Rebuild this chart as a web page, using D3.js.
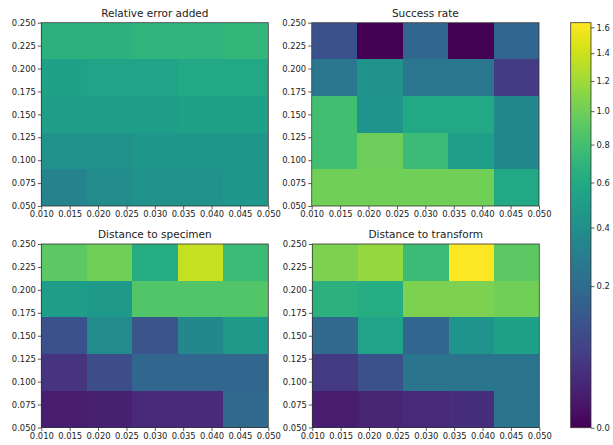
<!DOCTYPE html>
<html><head><meta charset="utf-8">
<script src="https://cdn.jsdelivr.net/npm/d3@7"></script>
<style>body{margin:0;background:#fff}svg{display:block}text{font-family:"DejaVu Sans",sans-serif;fill:#222}</style>
</head><body><svg id="c" width="613" height="445"></svg>
<script>
// cell edges
const xEdges = [0.01, 0.018, 0.026, 0.034, 0.042, 0.05];
const yEdges = [0.05, 0.09, 0.13, 0.17, 0.21, 0.25];
const xTicks = [0.01, 0.015, 0.02, 0.025, 0.03, 0.035, 0.04, 0.045, 0.05];
const yTicks = [0.05, 0.075, 0.1, 0.125, 0.15, 0.175, 0.2, 0.225, 0.25];
const cbTicks = [0, 0.2, 0.4, 0.6, 0.8, 1.0, 1.2, 1.4, 1.6];
const titles = ["Relative error added", "Success rate", "Distance to specimen", "Distance to transform"];
// rows from y=0.05 (bottom) to y=0.25 (top)
const relError = [
  [0.33, 0.38, 0.41, 0.41, 0.46],
  [0.41, 0.41, 0.46, 0.46, 0.46],
  [0.50, 0.50, 0.50, 0.53, 0.53],
  [0.53, 0.55, 0.55, 0.59, 0.59],
  [0.67, 0.67, 0.69, 0.69, 0.71]
];
const successRate = [
  [1.00, 1.00, 1.00, 1.00, 0.59],
  [0.80, 0.98, 0.76, 0.51, 0.35],
  [0.80, 0.44, 0.59, 0.59, 0.35],
  [0.25, 0.41, 0.25, 0.25, 0.05],
  [0.10, 0.00, 0.18, 0.00, 0.17]
];
const distSpecimen = [
  [0.010, 0.013, 0.020, 0.024, 0.19],
  [0.037, 0.087, 0.18, 0.18, 0.18],
  [0.10, 0.38, 0.11, 0.35, 0.48],
  [0.50, 0.48, 0.87, 0.87, 0.87],
  [0.92, 1.00, 0.63, 1.36, 0.76]
];
const distTransform = [
  [0.010, 0.016, 0.020, 0.028, 0.24],
  [0.047, 0.10, 0.24, 0.24, 0.24],
  [0.19, 0.55, 0.18, 0.43, 0.53],
  [0.67, 0.63, 1.05, 1.05, 1.00],
  [1.05, 1.16, 0.76, 1.637, 0.92]
];
const vmax = 1.637;

const svg = d3.select("#c");
const color = d3.scaleSequentialSqrt(d3.interpolateViridis).domain([0, vmax]);
const panels = [
  {data: relError, x: [41.3, 268.3], y: [206, 22.7]},
  {data: successRate, x: [311.7, 539], y: [206, 22.7]},
  {data: distSpecimen, x: [41.3, 268.3], y: [427.5, 244]},
  {data: distTransform, x: [312.3, 539.3], y: [427.5, 244]}
];
const fmt = d3.format(".3f");
panels.forEach((p, i) => {
  const xs = d3.scaleLinear().domain([0.01, 0.05]).range(p.x);
  const ys = d3.scaleLinear().domain([0.05, 0.25]).range(p.y);
  const g = svg.append("g");
  const cells = [];
  p.data.forEach((row, r) => row.forEach((v, c) => cells.push({r, c, v})));
  g.selectAll("rect.cell").data(cells).join("rect")
    .attr("shape-rendering", "crispEdges")
    .attr("x", d => xs(xEdges[d.c]))
    .attr("y", d => ys(yEdges[d.r + 1]))
    .attr("width", d => xs(xEdges[d.c + 1]) - xs(xEdges[d.c]))
    .attr("height", d => ys(yEdges[d.r]) - ys(yEdges[d.r + 1]))
    .attr("fill", d => color(d.v));
  g.append("rect").attr("x", p.x[0]).attr("y", p.y[1])
    .attr("width", p.x[1] - p.x[0]).attr("height", p.y[0] - p.y[1])
    .attr("fill", "none").attr("stroke", "#333").attr("stroke-width", 0.8);
  const xa = g.append("g").attr("transform", `translate(0,${p.y[0]})`)
    .call(d3.axisBottom(xs).tickValues(xTicks).tickFormat(fmt).tickSize(3.5).tickPadding(2));
  const ya = g.append("g").attr("transform", `translate(${p.x[0]},0)`)
    .call(d3.axisLeft(ys).tickValues(yTicks).tickFormat(fmt).tickSize(3.5).tickPadding(2));
  [xa, ya].forEach(a => {
    a.select(".domain").remove();
    a.selectAll("line").attr("stroke", "#333").attr("stroke-width", 0.8);
    a.selectAll("text").style("font-size", "8.4px").attr("fill", "#222");
  });
  g.append("text").attr("x", (p.x[0] + p.x[1]) / 2).attr("y", p.y[1] - 6)
    .attr("text-anchor", "middle").style("font-size", "10.5px").text(titles[i]);
});

// colorbar
const cbX = 570.7, cbW = 20.3, cbTop = 22.7, cbBot = 427.7;
const cy = d3.scaleSqrt().domain([0, vmax]).range([cbBot, cbTop]);
const defs = svg.append("defs");
const grad = defs.append("linearGradient").attr("id", "cbg")
  .attr("x1", 0).attr("y1", 1).attr("x2", 0).attr("y2", 0);
d3.range(0, 1.0001, 0.02).forEach(t => grad.append("stop")
  .attr("offset", t).attr("stop-color", d3.interpolateViridis(t)));
svg.append("rect").attr("x", cbX).attr("y", cbTop).attr("width", cbW)
  .attr("height", cbBot - cbTop).attr("fill", "url(#cbg)")
  .attr("stroke", "#333").attr("stroke-width", 0.8);
const ca = svg.append("g").attr("transform", `translate(${cbX + cbW},0)`)
  .call(d3.axisRight(cy).tickValues(cbTicks).tickFormat(d3.format(".1f")).tickSize(3.5).tickPadding(2));
ca.select(".domain").remove();
ca.selectAll("line").attr("stroke", "#333").attr("stroke-width", 0.8);
ca.selectAll("text").style("font-size", "8.4px").attr("fill", "#222");
</script></body></html>
